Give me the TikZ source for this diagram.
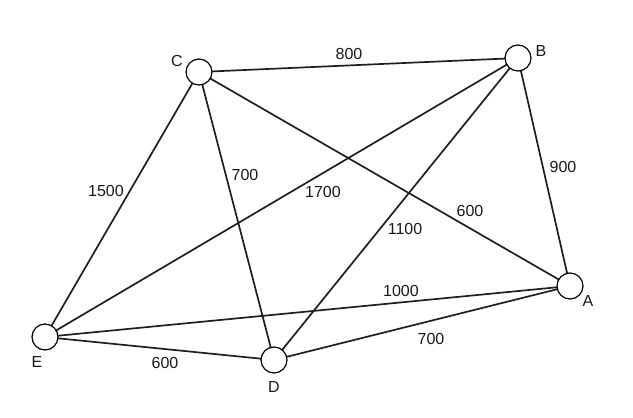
\documentclass[tikz,border=0pt]{standalone}
\usepackage{fontspec}
\setmainfont{Liberation Sans}
\begin{document}
\begin{tikzpicture}[x=1pt,y=-1pt,
  vertex/.style={circle,draw=black,fill=white,line width=1.2pt,minimum size=26pt,inner sep=0pt},
  edge/.style={line width=1.7pt,draw=black!88},
  lbl/.style={font=\fontsize{16}{18}\selectfont,inner sep=0pt,text=black!90}]
\useasboundingbox (0,0) rectangle (633,418);
\coordinate (C) at (199,72);
\coordinate (B) at (518,58);
\coordinate (A) at (570,286);
\coordinate (E) at (45,337);
\coordinate (D) at (274,360);
\draw[edge] (C) -- (B);
\draw[edge] (C) -- (E);
\draw[edge] (C) -- (D);
\draw[edge] (C) -- (A);
\draw[edge] (B) -- (E);
\draw[edge] (B) -- (D);
\draw[edge] (B) -- (A);
\draw[edge] (E) -- (A);
\draw[edge] (D) -- (A);
\draw[edge] (E) -- (D);
\node[vertex] (nC) at (C) {};
\node[vertex] (nB) at (B) {};
\node[vertex] (nA) at (A) {};
\node[vertex] (nE) at (E) {};
\node[vertex] (nD) at (D) {};
\node[lbl] (tC) at (177,61) {C};
\node[lbl] (tB) at (541,51) {B};
\node[lbl] (tA) at (588,301) {A};
\node[lbl] (tE) at (37,362) {E};
\node[lbl] (tD) at (274,387) {D};
\node[lbl] (l1) at (349,54) {800};
\node[lbl] (l2) at (563,167) {900};
\node[lbl] (l3) at (106,191) {1500};
\node[lbl] (l4) at (245,175) {700};
\node[lbl] (l5) at (323,192) {1700};
\node[lbl] (l6) at (470,211) {600};
\node[lbl] (l7) at (405,229) {1100};
\node[lbl] (l8) at (401,291) {1000};
\node[lbl] (l9) at (431,339) {700};
\node[lbl] (l10) at (165,363) {600};
\end{tikzpicture}
\end{document}
